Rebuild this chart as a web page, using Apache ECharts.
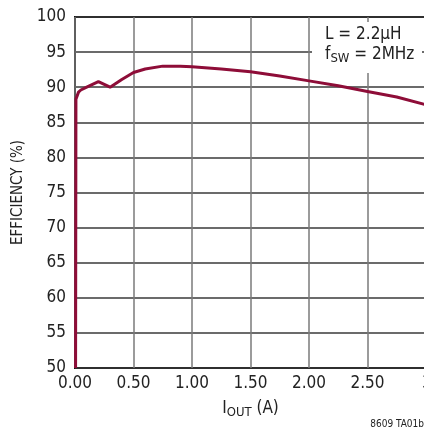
<!DOCTYPE html>
<html><head><meta charset="utf-8">
<script src="https://cdn.jsdelivr.net/npm/echarts@6/dist/echarts.min.js"></script>
<style>html,body{margin:0;padding:0;background:#fff}#c{width:424px;height:435px}</style>
</head><body><div id="c"></div>
<script>
var currentA = [0.005, 0.008, 0.03, 0.05, 0.1, 0.15, 0.2, 0.25, 0.3, 0.4, 0.5, 0.6, 0.75, 0.9, 1.0, 1.25, 1.5, 1.75, 2.0, 2.25, 2.5, 2.75, 3.0];
var efficiency = [50, 88.3, 89.3, 89.6, 90.0, 90.4, 90.8, 90.4, 90.0, 91.1, 92.1, 92.6, 93.0, 93.0, 92.9, 92.6, 92.2, 91.6, 90.9, 90.2, 89.4, 88.6, 87.5];
var FONT = "'Liberation Sans Narrow','DejaVu Sans Condensed',sans-serif";
var chart = echarts.init(document.getElementById('c'), null, {renderer:'canvas'});
chart.setOption({
  animation:false,
  backgroundColor:'#fff',
  grid:{left:75, top:17, width:351, height:351, outerBoundsMode:'none', containLabel:false, show:true, borderColor:'#111', borderWidth:2, backgroundColor:'transparent'},
  xAxis:{type:'value', min:0, max:3, interval:0.5,
    axisLine:{show:false}, axisTick:{show:false},
    splitLine:{show:true, lineStyle:{color:'#7a7a7a', width:1.5}},
    axisLabel:{color:'#222', fontFamily:FONT, fontSize:17, margin:7,
      formatter:function(v){return v===3 ? '{r|'+v.toFixed(2)+'}' : v.toFixed(2);},
      rich:{r:{fontFamily:FONT, fontSize:17, color:'#222', padding:[0,0,0,26]}}},
    name:'{i|I}{s|OUT}{i| (A)}', nameLocation:'middle', nameGap:30,
    nameTextStyle:{rich:{i:{fontFamily:FONT,fontSize:17,color:'#222'}, s:{fontFamily:FONT,fontSize:13,color:'#222',verticalAlign:'bottom',padding:[8,0,0,0]}}}
  },
  yAxis:{type:'value', min:50, max:100, interval:5,
    axisLine:{show:false}, axisTick:{show:false},
    splitLine:{show:true, lineStyle:{color:'#3a3a3a', width:1.5}},
    axisLabel:{color:'#222', fontFamily:FONT, fontSize:17, margin:9},
    name:'EFFICIENCY (%)', nameLocation:'middle', nameGap:48,
    nameTextStyle:{fontFamily:FONT, fontSize:15, color:'#222'}
  },
  series:[{type:'line', data:currentA.map(function(x,i){return [x,efficiency[i]];}),
    showSymbol:false, smooth:false, lineStyle:{color:'#8e0d38', width:3}, itemStyle:{color:'#8e0d38'}, z:3}],
  graphic:[
    {type:'rect', shape:{x:312, y:22, width:110, height:51}, style:{fill:'#fff'}, z:10},
    {type:'text', left:325, top:26, z:11, style:{text:'L = 2.2µH', font:'17px '+FONT, fill:'#222'}},
    {type:'text', left:325, top:46, z:11, style:{text:'{a|f}{b|SW}{a| = 2MHz}', rich:{a:{font:'17px '+FONT, fill:'#222'}, b:{font:'13px '+FONT, fill:'#222', padding:[8,0,0,0]}}}},
    {type:'text', right:0, top:419, z:11, style:{text:'8609 TA01b', font:'10px '+FONT, fill:'#222'}}
  ]
});
</script></body></html>
